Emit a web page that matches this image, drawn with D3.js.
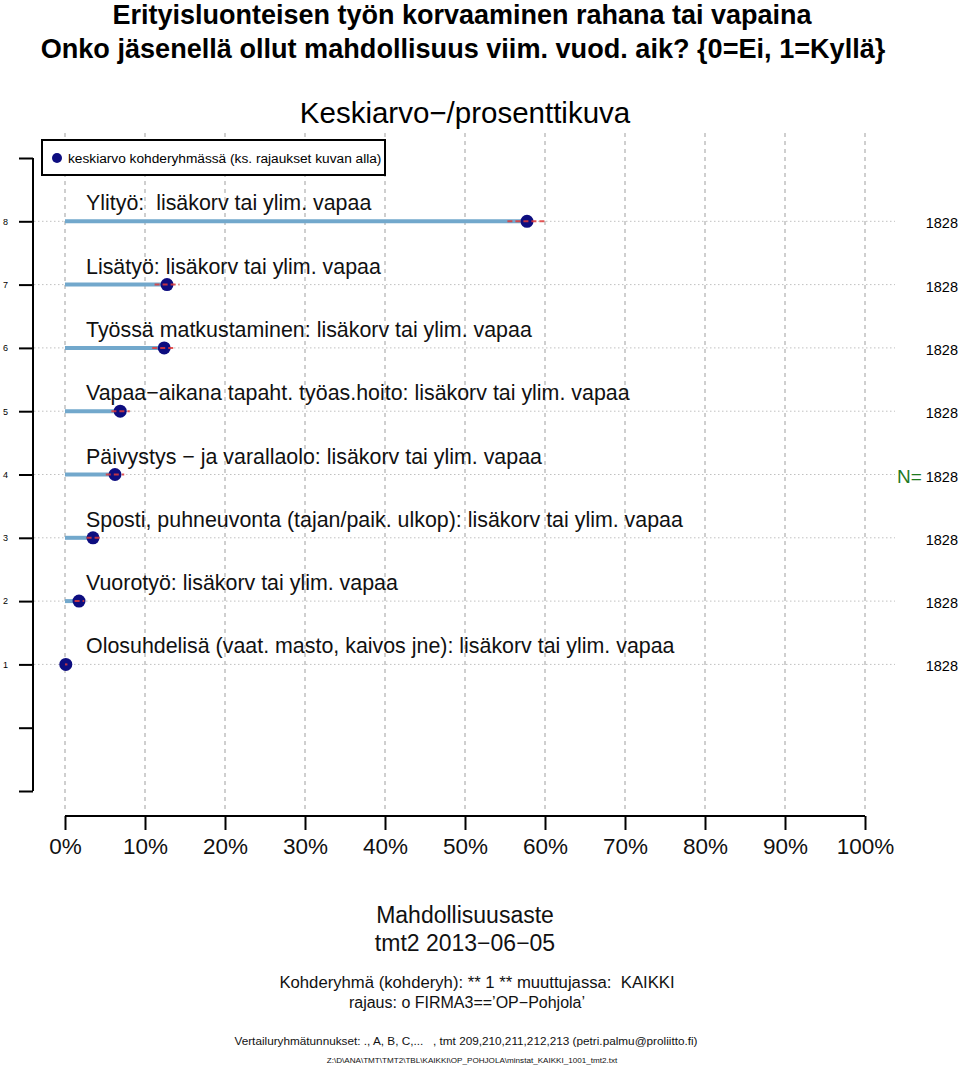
<!DOCTYPE html>
<html><head><meta charset="utf-8">
<script src="https://cdn.jsdelivr.net/npm/d3@7"></script>
<style>body{margin:0;background:#fff}svg{display:block;font-family:"Liberation Sans",Arial,Helvetica,sans-serif}</style>
</head><body>
<script>
const labels = [
 "Olosuhdelisä (vaat. masto, kaivos jne): lisäkorv tai ylim. vapaa",
 "Vuorotyö: lisäkorv tai ylim. vapaa",
 "Sposti, puhneuvonta (tajan/paik. ulkop): lisäkorv tai ylim. vapaa",
 "Päivystys − ja varallaolo: lisäkorv tai ylim. vapaa",
 "Vapaa−aikana tapaht. työas.hoito: lisäkorv tai ylim. vapaa",
 "Työssä matkustaminen: lisäkorv tai ylim. vapaa",
 "Lisätyö: lisäkorv tai ylim. vapaa",
 "Ylityö:  lisäkorv tai ylim. vapaa"
];
const rows = [1,2,3,4,5,6,7,8];
const means = [0.1, 1.75, 3.5, 6.25, 6.9, 12.4, 12.75, 57.75];
const ciLow = [0.0, 1.2, 2.7, 5.1, 5.8, 10.9, 11.2, 55.3];
const ciHigh = [0.3, 2.4, 4.4, 7.4, 8.1, 13.9, 14.3, 60.1];
const nValues = [1828,1828,1828,1828,1828,1828,1828,1828];
const xTicks = [0,10,20,30,40,50,60,70,80,90,100];
const yTicks = [-1,0,1,2,3,4,5,6,7,8,9];

const W=960,H=1065;
const svg=d3.select("body").append("svg").attr("width",W).attr("height",H);
const x=d3.scaleLinear().domain([0,100]).range([65,865]);
const y=d3.scaleLinear().domain([-1,9]).range([791,158]);

// titles
svg.append("text").attr("x",462).attr("y",24).attr("text-anchor","middle").attr("font-weight","bold").attr("font-size",27).text("Erityisluonteisen työn korvaaminen rahana tai vapaina");
svg.append("text").attr("x",463).attr("y",58).attr("text-anchor","middle").attr("font-weight","bold").attr("font-size",27.1).text("Onko jäsenellä ollut mahdollisuus viim. vuod. aik? {0=Ei, 1=Kyllä}");
svg.append("text").attr("x",465).attr("y",123).attr("text-anchor","middle").attr("font-size",29.5).text("Keskiarvo−/prosenttikuva");

// vertical grid
svg.append("g").selectAll("line").data(xTicks).join("line")
 .attr("x1",d=>x(d)).attr("x2",d=>x(d)).attr("y1",133).attr("y2",810)
 .attr("stroke","#b0b0b0").attr("stroke-width",1.2).attr("stroke-dasharray","4,4");

// row dotted lines
svg.append("g").selectAll("line").data(rows).join("line")
 .attr("x1",34).attr("x2",895).attr("y1",d=>y(d)).attr("y2",d=>y(d))
 .attr("stroke","#c0c0c0").attr("stroke-width",1).attr("stroke-dasharray","1.5,2.5");

// y axis
const yAxis=d3.axisLeft(y).tickValues(yTicks).tickSize(14).tickFormat(d=>(d>=1&&d<=8)?d:"");
const ya=svg.append("g").attr("transform","translate(33,0)").call(yAxis);
ya.select(".domain").attr("stroke","#000").attr("stroke-width",2).attr("d","M0,158V791");
ya.selectAll(".tick line").attr("stroke","#000").attr("stroke-width",2);
ya.selectAll(".tick text").attr("font-size",9).attr("x",-30).attr("text-anchor","start").attr("font-family","Liberation Sans,Arial,sans-serif");

// legend
svg.append("rect").attr("x",42).attr("y",140).attr("width",343).attr("height",35).attr("fill","#fff").attr("stroke","#000").attr("stroke-width",2);
svg.append("circle").attr("cx",57).attr("cy",158).attr("r",5).attr("fill","#0d0d80");
svg.append("text").attr("x",68).attr("y",163).attr("font-size",13.7).text("keskiarvo kohderyhmässä (ks. rajaukset kuvan alla)");

const data=rows.map((r,i)=>({r,label:labels[i],m:means[i],lo:ciLow[i],hi:ciHigh[i],n:nValues[i]}));
const g=svg.append("g");
// bars
g.selectAll("line.bar").data(data).join("line").attr("class","bar")
 .attr("x1",x(0)).attr("x2",d=>x(d.m)).attr("y1",d=>y(d.r)).attr("y2",d=>y(d.r))
 .attr("stroke","#72a8cc").attr("stroke-width",4);
// labels
g.selectAll("text.lab").data(data).join("text").attr("class","lab")
 .attr("x",86).attr("y",d=>y(d.r)-11).attr("font-size",21.4).attr("fill","#111").style("white-space","pre").text(d=>d.label);
// points
g.selectAll("circle").data(data).join("circle")
 .attr("cx",d=>x(d.m)).attr("cy",d=>y(d.r)).attr("r",6.5).attr("fill","#0d0d80");
// CI
g.selectAll("line.ci").data(data).join("line").attr("class","ci")
 .attr("x1",d=>x(d.lo)).attr("x2",d=>x(d.hi)).attr("y1",d=>y(d.r)).attr("y2",d=>y(d.r))
 .attr("stroke","#e03a3a").attr("stroke-width",2).attr("stroke-dasharray","5,3").attr("opacity",0.85);
// N
g.selectAll("text.n").data(data).join("text").attr("class","n")
 .attr("x",958).attr("text-anchor","end").attr("y",d=>y(d.r)+7).attr("font-size",14.5).text(d=>d.n);
svg.append("text").attr("x",897).attr("y",y(4)+8).attr("font-size",19).attr("fill","#1f7a1f").text("N=");

// x axis
const xAxis=d3.axisBottom(x).tickValues(xTicks).tickSize(14).tickFormat(d=>d+"%");
const xa=svg.append("g").attr("transform","translate(0,816)").call(xAxis);
xa.select(".domain").attr("stroke","#000").attr("stroke-width",2).attr("d","M65,0H865");
xa.selectAll(".tick line").attr("stroke","#000").attr("stroke-width",2);
xa.selectAll(".tick text").attr("font-size",22.5).attr("y",38).attr("dy",0).attr("fill","#111").attr("font-family","Liberation Sans,Arial,sans-serif");

// bottom texts
const bt=[["Mahdollisuusaste",465,923,23],["tmt2 2013−06−05",465,951,23],["Kohderyhmä (kohderyh): ** 1 ** muuttujassa:  KAIKKI",477,988,16.7],["rajaus: o FIRMA3==’OP−Pohjola’",467,1008,16],["Vertailuryhmätunnukset: ., A, B, C,...   , tmt 209,210,211,212,213 (petri.palmu@proliitto.fi)",466,1045,11.75],["Z:\\D\\ANA\\TMT\\TMT2\\TBL\\KAIKKI\\OP_POHJOLA\\minstat_KAIKKI_1001_tmt2.txt",472,1063,8.1]];
svg.append("g").selectAll("text").data(bt).join("text")
 .attr("x",d=>d[1]).attr("y",d=>d[2]).attr("font-size",d=>d[3]).attr("text-anchor","middle").attr("fill","#111").style("white-space","pre").text(d=>d[0]);
</script>
</body></html>
